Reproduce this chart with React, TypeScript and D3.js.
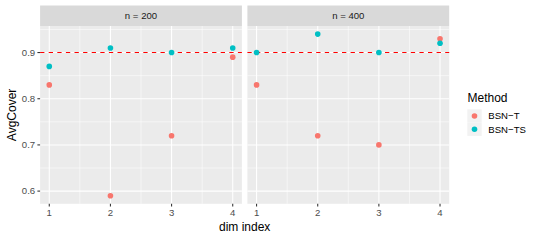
import React from "react";
import * as d3 from "d3";

const panels = ["n = 200", "n = 400"];
const dims = [1, 2, 3, 4];
const methods = ["BSN\u2212T", "BSN\u2212TS"];
const bsnT200 = [0.83, 0.59, 0.72, 0.89];
const bsnTS200 = [0.87, 0.91, 0.9, 0.91];
const bsnT400 = [0.83, 0.72, 0.7, 0.93];
const bsnTS400 = [0.9, 0.94, 0.9, 0.92];
const yTicks = [0.6, 0.7, 0.8, 0.9];
const refLine = 0.9;

const colors = ["#F8766D", "#00BFC4"];

export default function App() {
  const W = 540, H = 240;
  const panelTop = 26, panelBottom = 203.8;
  const stripTop = 5.5;
  const panelX = [[40.1, 241.9], [247.4, 449.2]];
  const seriesByPanel = [
    [bsnT200, bsnTS200],
    [bsnT400, bsnTS400],
  ];
  const allVals = [...bsnT200, ...bsnTS200, ...bsnT400, ...bsnTS400];
  const yMin = d3.min(allVals)!, yMax = d3.max(allVals)!;
  const yPad = (yMax - yMin) * 0.05;
  const y = d3.scaleLinear().domain([yMin - yPad, yMax + yPad]).range([panelBottom, panelTop]);
  const yMinor = [0.65, 0.75, 0.85, 0.95].filter(v => v >= y.domain()[0] && v <= y.domain()[1]);
  const font = "Liberation Sans, Arial, sans-serif";
  const small = 9.6, big = 12;
  const keyW = 14.4, keyH = 13.3;

  return (
    <svg width={W} height={H} style={{ position: "absolute", left: 0, top: 0, fontFamily: font }}>
      <rect width={W} height={H} fill="white" />
      {panels.map((p, pi) => {
        const [x0, x1] = panelX[pi];
        const x = d3.scaleLinear().domain([0.85, 4.15]).range([x0, x1]);
        const xMinor = [1.5, 2.5, 3.5];
        return (
          <g key={p}>
            <rect x={x0} y={stripTop} width={x1 - x0} height={panelTop - stripTop} fill="#D9D9D9" />
            <text x={(x0 + x1) / 2} y={(stripTop + panelTop) / 2} dy="0.35em" textAnchor="middle" fontSize={small} fill="#1A1A1A">{p}</text>
            <rect x={x0} y={panelTop} width={x1 - x0} height={panelBottom - panelTop} fill="#EBEBEB" />
            {yMinor.map(v => (
              <line key={"ym" + v} x1={x0} x2={x1} y1={y(v)} y2={y(v)} stroke="white" strokeWidth={0.53} />
            ))}
            {xMinor.map(v => (
              <line key={"xm" + v} x1={x(v)} x2={x(v)} y1={panelTop} y2={panelBottom} stroke="white" strokeWidth={0.53} />
            ))}
            {yTicks.map(v => (
              <line key={"y" + v} x1={x0} x2={x1} y1={y(v)} y2={y(v)} stroke="white" strokeWidth={1.07} />
            ))}
            {dims.map(v => (
              <line key={"x" + v} x1={x(v)} x2={x(v)} y1={panelTop} y2={panelBottom} stroke="white" strokeWidth={1.07} />
            ))}
            <line x1={x0} x2={x1} y1={y(refLine)} y2={y(refLine)} stroke="red" strokeWidth={1.07} strokeDasharray="4.3,4.3" />
            {seriesByPanel[pi].map((vals, si) =>
              vals.map((v, i) => (
                <circle key={si + "-" + i} cx={x(dims[i])} cy={y(v)} r={2.8} fill={colors[si]} />
              ))
            )}
            {dims.map(v => (
              <g key={"xt" + v}>
                <line x1={x(v)} x2={x(v)} y1={panelBottom} y2={panelBottom + 2.7} stroke="#333333" strokeWidth={1.07} />
                <text x={x(v)} y={panelBottom + 2.7 + 2.2} dy="0.71em" textAnchor="middle" fontSize={small} fill="#4D4D4D">{v}</text>
              </g>
            ))}
          </g>
        );
      })}
      {yTicks.map(v => (
        <g key={"yt" + v}>
          <line x1={panelX[0][0] - 2.7} x2={panelX[0][0]} y1={y(v)} y2={y(v)} stroke="#333333" strokeWidth={1.07} />
          <text x={panelX[0][0] - 2.7 - 2.2} y={y(v)} dy="0.35em" textAnchor="end" fontSize={small} fill="#4D4D4D">{v.toFixed(1)}</text>
        </g>
      ))}
      <text x={(panelX[0][0] + panelX[1][1]) / 2} y={231} textAnchor="middle" fontSize={big} fill="black">dim index</text>
      <text transform={`translate(15.5,${(panelTop + panelBottom) / 2}) rotate(-90)`} textAnchor="middle" fontSize={big} fill="black">AvgCover</text>
      <text x={467.5} y={102} fontSize={big} fill="black">Method</text>
      {methods.map((m, i) => {
        const ky = 109.3 + i * keyH;
        return (
          <g key={m}>
            <rect x={467.3} y={ky} width={keyW} height={keyH} fill="#F2F2F2" />
            <circle cx={467.3 + keyW / 2} cy={ky + keyH / 2} r={2.8} fill={colors[i]} />
            <text x={488.3} y={ky + keyH / 2} dy="0.35em" fontSize={small} fill="black">{m}</text>
          </g>
        );
      })}
    </svg>
  );
}
